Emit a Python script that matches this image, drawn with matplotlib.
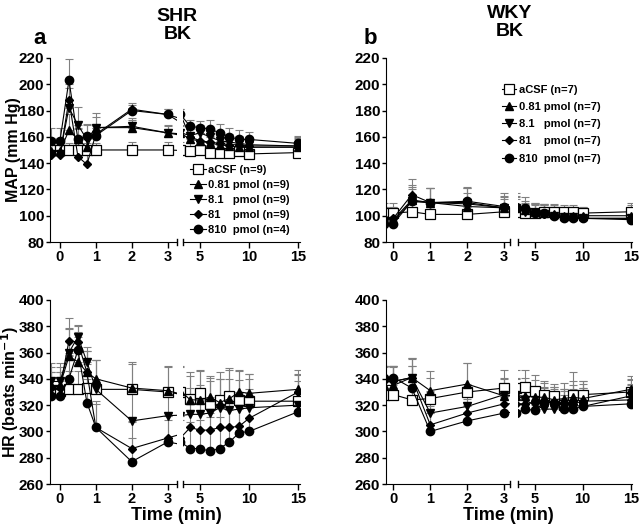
import numpy as np
import matplotlib
matplotlib.use('Agg')
import matplotlib.pyplot as plt

plt.rcParams['font.family'] = ['Liberation Sans', 'DejaVu Sans']
plt.rcParams['font.weight'] = 'bold'
plt.rcParams['mathtext.default'] = 'bf'

################################################################################
# time points (min)
T_SHR = [-0.25, 0, 0.25, 0.5, 0.75, 1, 2, 3, 4, 5, 6, 7, 8, 9, 10, 15]
T_WKY = [-0.25, 0, 0.5, 1, 2, 3, 4, 5, 6, 7, 8, 9, 10, 15]

# SHR, MAP (mm Hg)
map_shr_acsf = [150, 150, 150, 150, 150, 150, 150, 150, 149, 150, 148, 148, 148, 149, 147, 148]
map_shr_081 = [149, 149, 165, 158, 152, 167, 167, 163, 158, 157, 155, 154, 153, 152, 152, 152]
map_shr_8 = [147, 147, 182, 169, 158, 167, 168, 163, 161, 163, 160, 157, 156, 155, 154, 153]
map_shr_81 = [146, 146, 188, 145, 139, 162, 181, 177, 160, 157, 156, 155, 154, 154, 153, 153]
map_shr_810 = [157, 157, 203, 158, 161, 161, 180, 177, 168, 167, 166, 163, 160, 158, 158, 155]
map_shr_sem = [
    [5, 5, 5, 5, 5, 5, 6, 6, 6, 5, 6, 6, 6, 6, 6, 6],
    [10, 10, 12, 9, 9, 8, 6, 6, 6, 6, 6, 6, 6, 6, 6, 6],
    [10, 10, 15, 14, 12, 11, 6, 5, 6, 6, 6, 6, 6, 6, 6, 6],
    [8, 8, 12, 8, 8, 6, 5, 4, 6, 6, 6, 6, 6, 6, 6, 7],
    [10, 10, 16, 8, 8, 8, 4, 4, 5, 5, 7, 7, 7, 7, 6, 6],
]

# SHR, HR (beats/min)
hr_shr_acsf = [331, 331, 332, 332, 333, 332, 332, 330, 325, 329, 321, 324, 327, 324, 323, 323]
hr_shr_081 = [335, 335, 357, 353, 345, 340, 333, 331, 324, 324, 326, 322, 325, 330, 329, 332]
hr_shr_8 = [338, 338, 360, 372, 353, 332, 308, 312, 313, 313, 314, 318, 316, 317, 318, 320]
hr_shr_81 = [333, 333, 369, 368, 345, 303, 287, 295, 303, 301, 301, 303, 303, 304, 310, 330]
hr_shr_810 = [327, 327, 340, 362, 322, 303, 277, 292, 287, 287, 285, 287, 292, 299, 300, 315]
hr_shr_sem = [
    [14, 14, 14, 14, 18, 22, 21, 20, 20, 18, 20, 21, 21, 22, 21, 20],
    [14, 14, 22, 22, 16, 14, 18, 18, 18, 22, 16, 18, 22, 17, 15, 15],
    [14, 14, 18, 9, 11, 22, 22, 22, 20, 22, 24, 22, 24, 22, 22, 18],
    [12, 12, 17, 12, 16, 18, 20, 17, 20, 22, 24, 24, 24, 26, 22, 14],
    [14, 14, 18, 14, 18, 20, 18, 17, 20, 22, 26, 24, 26, 30, 25, 15],
]

# WKY, MAP (mm Hg)
map_wky_acsf = [102, 102, 103, 101, 101, 103, 102, 102, 103, 103, 103, 103, 102, 103]
map_wky_081 = [97, 97, 112, 110, 107, 106, 104, 103, 102, 101, 100, 100, 100, 100]
map_wky_8 = [96, 96, 111, 110, 110, 106, 103, 102, 101, 100, 99, 99, 98, 98]
map_wky_81 = [98, 98, 116, 110, 109, 106, 104, 103, 101, 100, 99, 99, 98, 98]
map_wky_810 = [94, 94, 111, 110, 111, 107, 106, 102, 102, 100, 98, 98, 98, 97]
map_wky_sem = [
    [8, 8, 6, 8, 8, 6, 6, 6, 6, 6, 5, 5, 5, 7],
    [10, 10, 10, 11, 10, 7, 6, 7, 7, 7, 7, 7, 7, 8],
    [9, 9, 9, 11, 11, 8, 6, 7, 7, 7, 7, 7, 7, 8],
    [9, 9, 12, 11, 12, 9, 7, 7, 7, 7, 7, 7, 7, 7],
    [11, 11, 12, 11, 11, 10, 8, 7, 7, 7, 7, 7, 7, 8],
]

# WKY, HR (beats/min)
hr_wky_acsf = [328, 328, 324, 325, 330, 333, 334, 331, 328, 327, 320, 328, 328, 330]
hr_wky_081 = [335, 335, 341, 331, 336, 327, 327, 326, 326, 324, 325, 326, 325, 332]
hr_wky_8 = [338, 338, 341, 314, 319, 328, 324, 320, 317, 317, 319, 320, 319, 327]
hr_wky_81 = [338, 338, 341, 305, 314, 321, 321, 322, 322, 322, 321, 321, 323, 324]
hr_wky_810 = [341, 341, 333, 300, 308, 314, 317, 316, 322, 322, 317, 317, 319, 321]
hr_wky_sem = [
    [22, 22, 26, 16, 22, 14, 13, 12, 10, 9, 12, 10, 10, 10],
    [15, 15, 15, 15, 16, 14, 14, 13, 11, 10, 12, 19, 13, 10],
    [12, 12, 15, 16, 13, 12, 12, 13, 12, 11, 12, 12, 14, 12],
    [11, 11, 14, 14, 11, 12, 12, 12, 12, 12, 11, 14, 13, 12],
    [9, 9, 17, 14, 12, 12, 13, 12, 11, 10, 11, 12, 14, 14],
]

LABELS_SHR = ['aCSF (n=9)', '0.81 pmol (n=9)', '8.1   pmol (n=9)', '81    pmol (n=9)', '810  pmol (n=4)']
LABELS_WKY = ['aCSF (n=7)', '0.81 pmol (n=7)', '8.1   pmol (n=7)', '81    pmol (n=7)', '810  pmol (n=7)']

################################################################################

STYLES = [
    dict(marker='s', ms=7, mfc='white', mec='black', mew=0.9),
    dict(marker='^', ms=5.5, mfc='black', mec='black'),
    dict(marker='v', ms=5.5, mfc='black', mec='black'),
    dict(marker='D', ms=3.8, mfc='black', mec='black'),
    dict(marker='o', ms=6, mfc='black', mec='black'),
]


def draw_panel(axl, axr, t, series, sems, ylim, yticks, xl, xr):
    handles = []
    for ax in (axl, axr):
        for i in range(len(series)):
            y = np.array(series[i])
            err = np.array(sems[i])
            ax.errorbar(t, y, yerr=[np.zeros_like(err), err], fmt='none',
                        ecolor='0.5', elinewidth=0.8, capsize=3, capthick=0.8, zorder=1)
        handles = []
        for i in range(len(series)):
            h, = ax.plot(t, series[i], color='black', lw=0.8, zorder=2 + i, **STYLES[i])
            handles.append(h)
        ax.set_ylim(*ylim)
        ax.spines['top'].set_visible(False)
        ax.spines['right'].set_visible(False)
        ax.tick_params(direction='out', length=4, width=1, labelsize=10.5, pad=2)
        ax.patch.set_alpha(0)
    axl.set_xlim(*xl)
    axr.set_xlim(*xr)
    axl.set_xticks([0, 1, 2, 3])
    axr.set_xticks([5, 10, 15])
    axl.set_yticks(yticks)
    axl.tick_params(axis='y', labelsize=11, length=3, pad=1)
    axr.spines['left'].set_visible(False)
    axr.set_yticks([])
    # small end ticks at the axis break
    axl.plot([1, 1], [-0.015, 0.015], transform=axl.transAxes, color='black', lw=1, clip_on=False)
    axr.plot([0, 0], [-0.015, 0.015], transform=axr.transAxes, color='black', lw=1, clip_on=False)
    return handles


fig = plt.figure(figsize=(6.4, 5.29), dpi=100)

H = 0.348
TOP_B = 0.5425
BOT_B = 0.085

a1 = fig.add_axes([0.078, TOP_B, 0.198, H])
a2 = fig.add_axes([0.286, TOP_B, 0.183, H])
a3 = fig.add_axes([0.078, BOT_B, 0.198, H])
a4 = fig.add_axes([0.286, BOT_B, 0.183, H])
b1 = fig.add_axes([0.603, TOP_B, 0.194, H])
b2 = fig.add_axes([0.809, TOP_B, 0.178, H])
b3 = fig.add_axes([0.603, BOT_B, 0.194, H])
b4 = fig.add_axes([0.809, BOT_B, 0.178, H])

h_a = draw_panel(a1, a2, T_SHR, [map_shr_acsf, map_shr_081, map_shr_8, map_shr_81, map_shr_810],
                 map_shr_sem, (80, 220), range(80, 221, 20), (-0.28, 3.25), (3.27, 15.2))
draw_panel(a3, a4, T_SHR, [hr_shr_acsf, hr_shr_081, hr_shr_8, hr_shr_81, hr_shr_810],
           hr_shr_sem, (260, 400), range(260, 401, 20), (-0.28, 3.25), (3.27, 15.2))
h_b = draw_panel(b1, b2, T_WKY, [map_wky_acsf, map_wky_081, map_wky_8, map_wky_81, map_wky_810],
                 map_wky_sem, (80, 220), range(80, 221, 20), (-0.2, 3.16), (3.23, 15.1))
draw_panel(b3, b4, T_WKY, [hr_wky_acsf, hr_wky_081, hr_wky_8, hr_wky_81, hr_wky_810],
           hr_wky_sem, (260, 400), range(260, 401, 20), (-0.2, 3.16), (3.23, 15.1))

a1.set_ylabel('MAP (mm Hg)', fontsize=11.5, fontweight='bold')
a1.yaxis.set_label_coords(-0.23, 0.5)
a3.set_ylabel('HR (beats min$^{-1}$)', fontsize=11.5, fontweight='bold')
a3.yaxis.set_label_coords(-0.23, 0.5)

fig.text(0.275, 0.026, 'Time (min)', ha='center', va='center', fontsize=13, fontweight='bold')
fig.text(0.795, 0.026, 'Time (min)', ha='center', va='center', fontsize=13, fontweight='bold')

fig.text(0.277, 0.968, 'SHR', ha='center', va='center', fontsize=14, fontweight='bold')
fig.text(0.277, 0.934, 'BK', ha='center', va='center', fontsize=14, fontweight='bold')
fig.text(0.797, 0.975, 'WKY', ha='center', va='center', fontsize=14, fontweight='bold')
fig.text(0.797, 0.941, 'BK', ha='center', va='center', fontsize=14, fontweight='bold')
fig.text(0.0625, 0.928, 'a', ha='center', va='center', fontsize=16, fontweight='bold')
fig.text(0.578, 0.928, 'b', ha='center', va='center', fontsize=16, fontweight='bold')

fig.legend(h_a, LABELS_SHR, loc='upper left', bbox_to_anchor=(0.297, 0.688), frameon=False,
           borderpad=0, borderaxespad=0, handlelength=1.4, handletextpad=0.25, labelspacing=0.45,
           prop={'weight': 'bold', 'size': 8})
fig.legend(h_b, LABELS_WKY, loc='upper left', bbox_to_anchor=(0.784, 0.84), frameon=False,
           borderpad=0, borderaxespad=0, handlelength=1.3, handletextpad=0.25, labelspacing=0.65,
           prop={'weight': 'bold', 'size': 8})

plt.savefig('out.png', dpi=100)
